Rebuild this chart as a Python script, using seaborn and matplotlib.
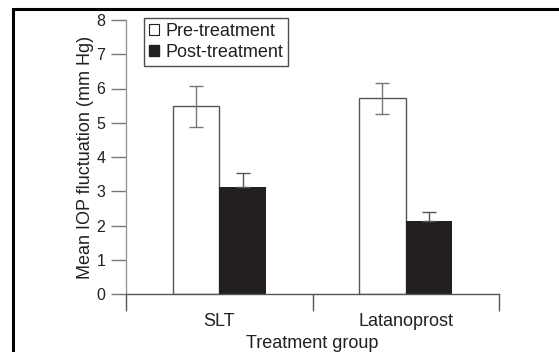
import matplotlib
matplotlib.use("Agg")
import matplotlib.pyplot as plt
import seaborn as sns
import pandas as pd
from matplotlib.patches import Patch, Rectangle

groups = ["SLT", "Latanoprost"]
phases = ["Pre-treatment", "Post-treatment"]
pre_means = [5.48, 5.72]
post_means = [3.12, 2.12]
pre_err = [0.6, 0.45]
post_err = [0.4, 0.27]
y_ticks = [0, 1, 2, 3, 4, 5, 6, 7, 8]

df = pd.DataFrame({
    "group": groups * 2,
    "phase": [phases[0]] * 2 + [phases[1]] * 2,
    "value": pre_means + post_means,
})

sns.set_style("white")
plt.rcParams["font.family"] = ["Liberation Sans", "DejaVu Sans"]

fig = plt.figure(figsize=(5.59, 3.52), dpi=100)
ax = fig.add_axes([126/559, 1 - 294/352, 373/559, 274/352])

sns.barplot(data=df, x="group", y="value", hue="phase", order=groups,
            hue_order=phases, palette=["white", "#231f20"], width=0.5,
            errorbar=None, ax=ax, legend=False, saturation=1)

for p in ax.patches:
    if p.get_facecolor()[0] > 0.5:
        p.set_edgecolor("#555555")
        p.set_linewidth(1.0)
    else:
        p.set_edgecolor("#231f20")
        p.set_linewidth(0)

bars = [p for p in ax.patches if p.get_height() > 0]
bars_sorted = sorted(bars, key=lambda b: b.get_x())
centers = [b.get_x() + b.get_width() / 2 for b in bars_sorted]
pre_x = [centers[0], centers[2]]
post_x = [centers[1], centers[3]]
ax.errorbar(pre_x, pre_means, yerr=pre_err, fmt="none", ecolor="#777777",
            elinewidth=1.0, capsize=5, capthick=1.0)
ax.errorbar(post_x, post_means, yerr=[[0, 0], post_err], fmt="none",
            ecolor="#555555", elinewidth=1.0, capsize=5, capthick=1.0)

ax.set_xlim(-0.5, 1.5)
ax.set_ylim(0, 8)
ax.set_yticks(y_ticks)
ax.set_xticks([-0.5, 0.5, 1.5])
ax.set_xticklabels([])
ax.tick_params(axis="x", which="major", direction="out", length=12, width=1,
               color="#555555", bottom=True)
ax.set_xticks([0, 1], minor=True)
ax.set_xticklabels(groups, minor=True)
ax.tick_params(axis="x", which="minor", length=0, labelsize=13, pad=14,
               labelcolor="#231f20")
ax.tick_params(axis="y", direction="out", length=11, width=1, color="#777777",
               left=True, labelsize=11.5, pad=4, labelcolor="#231f20")

for s in ["top", "right"]:
    ax.spines[s].set_visible(False)
ax.spines["left"].set_color("#999999")
ax.spines["left"].set_linewidth(1.0)
ax.spines["bottom"].set_color("#555555")
ax.spines["bottom"].set_linewidth(1.0)

ax.set_xlabel("Treatment group", fontsize=13, color="#231f20")
ax.xaxis.set_label_coords(0.5, -0.148)
ax.set_ylabel("Mean IOP fluctuation (mm Hg)", fontsize=13, color="#231f20")
ax.yaxis.set_label_coords(-0.087, 0.5)

handles = [Patch(facecolor="white", edgecolor="#231f20", linewidth=0.8),
           Patch(facecolor="#231f20", edgecolor="#231f20")]
leg = ax.legend(handles, phases, loc="upper left", bbox_to_anchor=(0.047, 1.008),
                borderaxespad=0, frameon=True, fancybox=False, fontsize=13,
                handlelength=0.55, handleheight=0.55, handletextpad=0.35,
                borderpad=0.3, labelspacing=0.2)
leg.get_frame().set_edgecolor("#231f20")
leg.get_frame().set_linewidth(1.0)
for t in leg.get_texts():
    t.set_color("#231f20")

fig.patches.append(Rectangle((13/559, -0.1), 1.2, 1 - 9/352 + 0.1,
                             transform=fig.transFigure, fill=False,
                             edgecolor="black", linewidth=2.2, zorder=10))

fig.savefig("out.png", dpi=100)
